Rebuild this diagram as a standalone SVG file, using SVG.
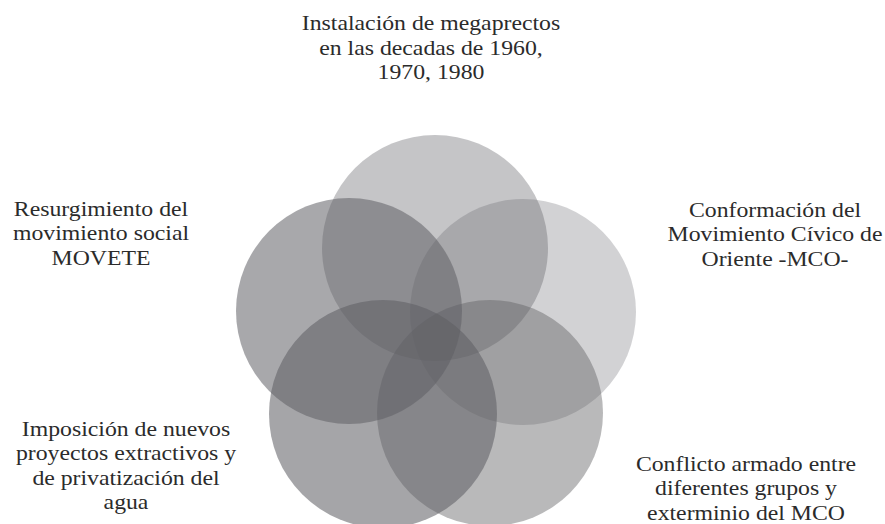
<svg xmlns="http://www.w3.org/2000/svg" width="885" height="524" viewBox="0 0 885 524">
<style>
.c{fill:#5f5f63;}
.t{font-family:"Liberation Serif","Times New Roman",serif;font-size:22px;fill:#2b2b2b;text-anchor:middle;}
</style>
<rect width="885" height="524" fill="#ffffff"/>
<g id="node-top">
<circle class="c" cx="435" cy="248" r="113" fill-opacity="0.36"/>
<text class="t" transform="translate(431,0) scale(1.08,1)"><tspan x="0" y="30.5">Instalación de megaprectos</tspan><tspan x="0" y="55">en las decadas de 1960,</tspan><tspan x="0" y="79.5">1970, 1980</tspan></text>
</g>
<g id="node-right">
<circle class="c" cx="523" cy="312" r="113" fill-opacity="0.28"/>
<text class="t" transform="translate(775,0) scale(1.08,1)"><tspan x="0" y="217">Conformación del</tspan><tspan x="0" y="241.5">Movimiento Cívico de</tspan><tspan x="0" y="266">Oriente -MCO-</tspan></text>
</g>
<g id="node-bottom-right">
<circle class="c" cx="490" cy="413" r="113" fill-opacity="0.44"/>
<text class="t" transform="translate(746,0) scale(1.08,1)"><tspan x="0" y="471">Conflicto armado entre</tspan><tspan x="0" y="495.5">diferentes grupos y</tspan><tspan x="0" y="520">exterminio del MCO</tspan></text>
</g>
<g id="node-bottom-left">
<circle class="c" cx="383" cy="414" r="114" fill-opacity="0.56"/>
<text class="t" transform="translate(126,0) scale(1.08,1)"><tspan x="0" y="436">Imposición de nuevos</tspan><tspan x="0" y="460.5">proyectos extractivos y</tspan><tspan x="0" y="485">de privatización del</tspan><tspan x="0" y="509.5">agua</tspan></text>
</g>
<g id="node-left">
<circle class="c" cx="349" cy="311" r="113" fill-opacity="0.54"/>
<text class="t" transform="translate(101,0) scale(1.08,1)"><tspan x="0" y="216">Resurgimiento del</tspan><tspan x="0" y="240.5">movimiento social</tspan><tspan x="0" y="265">MOVETE</tspan></text>
</g>
<g id="connectors"/>
</svg>
